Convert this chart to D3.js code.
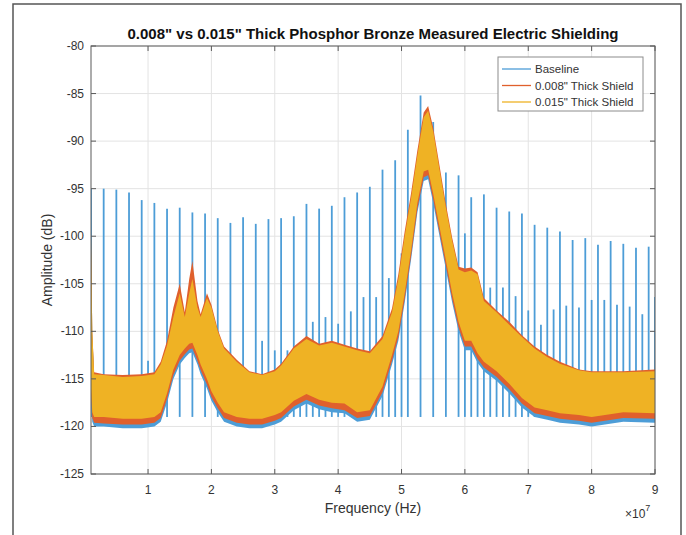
<!DOCTYPE html>
<html>
<head>
<meta charset="utf-8" />
<title>Phosphor Bronze Electric Shielding</title>
<script src="https://cdn.jsdelivr.net/npm/d3@7/dist/d3.min.js"></script>
<style>
  body { margin: 0; background: #fff; }
  text { font-family: "Liberation Sans", Arial, sans-serif; fill: #333; }
</style>
</head>
<body>
<script>
// frequencies in MHz where the noise band edges were read
var envFreq = [1, 1.2, 1.5, 3, 6, 9, 11, 12, 13, 14,
  15, 15.8, 16.5, 17, 17.8, 18.3, 19.3, 20, 21, 22,
  24, 26, 28, 30, 31, 33, 35, 37, 39, 41,
  43, 45, 47, 48.5, 49.5, 50.5, 51.5, 52.5, 53.5, 54.2,
  55, 56, 57, 58, 59, 60, 61, 62, 63, 65,
  67, 69, 71, 73, 75, 78, 80, 85, 90];

// 0.015" shield (yellow) band
var yellowHi = [-100, -110, -114.5, -114.6, -114.8, -114.7, -114.5, -113.5, -111.5, -108.5,
  -106, -108.5, -106, -104.5, -107.5, -108.5, -106.5, -107.5, -110, -111.8,
  -113.2, -114.3, -114.6, -114.2, -113.6, -111.8, -110.8, -111.5, -111.2, -111.6,
  -112, -112.3, -110.8, -108, -104.5, -100, -96, -91.5, -87.5, -86.8,
  -89, -93, -97, -100.5, -103.5, -103.8, -103.6, -104, -106.8, -108,
  -109.3, -110.6, -111.8, -112.7, -113.4, -114.1, -114.3, -114.3, -114.2];
var yellowLo = [-116, -118.5, -119, -119, -119.2, -119.2, -119, -118.5, -116.5, -114,
  -112.5, -111.8, -111.3, -111.2, -112.5, -113.5, -115, -116.3, -117.5, -118.5,
  -119, -119.2, -119.2, -118.8, -118.5, -117.3, -116.6, -117.2, -117.5, -117.6,
  -118.5, -118.3, -115.8, -112.5, -110, -106, -101.5, -96.5, -93.2, -93,
  -95.5, -99, -102.5, -106, -109, -111, -111, -112.3, -113.2, -114.2,
  -115.5, -117, -118, -118.3, -118.6, -118.8, -119, -118.5, -118.6];

// 0.008" shield (red) band
var redHi = [-99.5, -110, -114.3, -114.5, -114.6, -114.5, -114.3, -113.2, -111, -107.5,
  -105, -108, -104.5, -102.6, -106.8, -108.2, -106, -107.2, -109.8, -111.6,
  -113, -114.2, -114.5, -114, -113.4, -111.6, -110.5, -111.3, -111, -111.4,
  -111.8, -112.1, -110.5, -107.6, -104, -99.5, -95.5, -91, -87, -86.3,
  -88.6, -92.6, -96.6, -100.2, -103.2, -103.4, -103.3, -103.8, -106.5, -107.8,
  -109, -110.4, -111.6, -112.5, -113.2, -114, -114.2, -114.2, -114];
var redLo = [-116.6, -119.1, -119.6, -119.7, -119.8, -119.8, -119.6, -119.1, -117.1, -114.6,
  -113.1, -112.4, -111.9, -111.8, -113.1, -114.1, -115.6, -116.9, -118.1, -119.1,
  -119.6, -119.8, -119.8, -119.4, -119.1, -117.9, -117.2, -117.8, -118.1, -118.3,
  -119.1, -118.9, -116.4, -113.1, -110.6, -106.6, -102.1, -97.1, -93.8, -93.6,
  -96.1, -99.6, -103.1, -106.6, -109.6, -111.6, -111.6, -112.9, -113.8, -114.8,
  -116.1, -117.6, -118.6, -118.9, -119.2, -119.4, -119.6, -119.1, -119.2];

// baseline (blue) band
var blueHi = [-97, -110.5, -114.6, -114.8, -115, -114.9, -114.7, -113.8, -111.8, -108.8,
  -106.5, -109, -106.5, -105.2, -108, -109, -107, -108, -110.4, -112.1,
  -113.5, -114.5, -114.8, -114.4, -113.8, -112, -111, -111.7, -111.4, -111.8,
  -112.2, -112.5, -111, -108.3, -104.8, -100.3, -96.3, -92, -88, -87.2,
  -89.5, -93.4, -97.4, -100.8, -103.8, -104.1, -104, -104.3, -107, -108.3,
  -109.6, -110.9, -112.1, -113, -113.7, -114.4, -114.6, -114.6, -114.5];
var blueLo = [-117, -119.5, -120, -120, -120.2, -120.2, -120, -119.5, -117.5, -115,
  -113.5, -112.8, -112.3, -112.2, -113.5, -114.5, -116, -117.3, -118.5, -119.5,
  -120, -120.2, -120.2, -119.8, -119.5, -118.3, -117.6, -118.2, -118.5, -118.6,
  -119.5, -119.3, -116.8, -113.5, -111, -107, -102.5, -97.5, -94.2, -94,
  -96.5, -100, -103.5, -107, -110, -112, -112, -113.3, -114.2, -115.2,
  -116.5, -118, -119, -119.3, -119.6, -119.8, -120, -119.5, -119.6];

// baseline spurs (MHz, top in dB)
var spurFreq = [1, 3, 5, 7, 9, 11, 13, 15, 17, 19, 21, 23, 25, 27, 29,
  31, 33, 35, 37, 39, 41, 43, 45, 47, 49, 51, 53, 55, 57, 59,
  61, 63, 65, 67, 69, 71, 73, 75, 77, 79, 81, 83, 85, 87, 89,
  10, 28, 30, 32, 34, 36, 38, 40, 42, 44, 46, 48, 50,
  60, 62, 64, 66, 68, 70, 72, 74, 76, 78, 80, 82, 84, 86, 88, 90];
var spurTop = [-95, -95, -95.1, -95.4, -96.2, -96.5, -97.1, -97, -97.5, -97.6, -98.1, -98.6, -98, -98.7, -98.2,
  -98.1, -97.9, -96.6, -97.1, -96.8, -95.9, -95.4, -94.8, -93, -92, -88.8, -85.2, -88, -93.3, -93.6,
  -95.9, -95.6, -97, -97.4, -97.6, -98.8, -99.1, -99.5, -100.4, -100.2, -100.9, -100.5, -100.8, -101.2, -101.1,
  -113.1, -111, -112, -112, -112.5, -109, -108.5, -109.2, -107.9, -106.4, -106.4, -104.4, -101.8,
  -99.7, -104.6, -105.4, -105.4, -106.3, -107.8, -109.3, -107.7, -107.3, -107.5, -106.7, -106.7, -107.2, -107.4, -108.2, -106.4];

var xTicks = [1, 2, 3, 4, 5, 6, 7, 8, 9];      // x 10^7 Hz
var yTicks = [-125, -120, -115, -110, -105, -100, -95, -90, -85, -80];

var seriesNames = ["Baseline", "0.008\" Thick Shield", "0.015\" Thick Shield"];
var colors = ["#4d9dd7", "#e0602c", "#efb224"];

var W = 686, H = 535;
var pL = 91, pR = 655, pT = 46, pB = 474;

var svg = d3.select("body").append("svg")
  .attr("width", W).attr("height", H);

// outer figure frame
svg.append("rect")
  .attr("x", 13).attr("y", 4).attr("width", 668).attr("height", 560)
  .attr("fill", "#fff").attr("stroke", "#555").attr("stroke-width", 1.5);

var x = d3.scaleLinear().domain([1e6, 9e7]).range([pL, pR]);
var y = d3.scaleLinear().domain([-125, -80]).range([pB, pT]);

// grid
var g = svg.append("g");
g.selectAll(".gx").data(xTicks).enter().append("line")
  .attr("x1", function (d) { return x(d * 1e7); })
  .attr("x2", function (d) { return x(d * 1e7); })
  .attr("y1", pT).attr("y2", pB)
  .attr("stroke", "#e3e3e3").attr("stroke-width", 1);
g.selectAll(".gy").data(yTicks).enter().append("line")
  .attr("y1", function (d) { return y(d); })
  .attr("y2", function (d) { return y(d); })
  .attr("x1", pL).attr("x2", pR)
  .attr("stroke", "#e3e3e3").attr("stroke-width", 1);

// clip
svg.append("clipPath").attr("id", "clip").append("rect")
  .attr("x", pL).attr("y", pT).attr("width", pR - pL).attr("height", pB - pT);
var plot = svg.append("g").attr("clip-path", "url(#clip)");

function band(hi, lo) {
  var pts = envFreq.map(function (f, i) { return { f: f, hi: hi[i], lo: lo[i] }; });
  return d3.area()
    .x(function (d) { return x(d.f * 1e6); })
    .y0(function (d) { return y(d.lo); })
    .y1(function (d) { return y(d.hi); })(pts);
}

// baseline band + spurs, then the two shields on top
plot.append("path").attr("d", band(blueHi, blueLo)).attr("fill", colors[0]);
plot.selectAll(".spur").data(spurFreq).enter().append("line")
  .attr("x1", function (d) { return x(d * 1e6); })
  .attr("x2", function (d) { return x(d * 1e6); })
  .attr("y1", y(-119))
  .attr("y2", function (d, i) { return y(spurTop[i]); })
  .attr("stroke", colors[0]).attr("stroke-width", 1.8);
plot.append("path").attr("d", band(redHi, redLo)).attr("fill", colors[1]);
plot.append("path").attr("d", band(yellowHi, yellowLo)).attr("fill", colors[2]);

// axes box and ticks (inside, all sides)
var axisCol = "#5a5a5a";
svg.append("rect").attr("x", pL).attr("y", pT)
  .attr("width", pR - pL).attr("height", pB - pT)
  .attr("fill", "none").attr("stroke", axisCol).attr("stroke-width", 1);

var ax = svg.append("g");
xTicks.forEach(function (t) {
  var px = x(t * 1e7);
  ax.append("line").attr("x1", px).attr("x2", px).attr("y1", pB).attr("y2", pB - 5).attr("stroke", axisCol);
  ax.append("line").attr("x1", px).attr("x2", px).attr("y1", pT).attr("y2", pT + 5).attr("stroke", axisCol);
  ax.append("text").attr("x", px).attr("y", pB + 20)
    .attr("text-anchor", "middle").attr("font-size", 12).text(t);
});
yTicks.forEach(function (t) {
  var py = y(t);
  ax.append("line").attr("x1", pL).attr("x2", pL + 5).attr("y1", py).attr("y2", py).attr("stroke", axisCol);
  ax.append("line").attr("x1", pR).attr("x2", pR - 5).attr("y1", py).attr("y2", py).attr("stroke", axisCol);
  ax.append("text").attr("x", pL - 7).attr("y", py + 4)
    .attr("text-anchor", "end").attr("font-size", 12).text(t);
});

// exponent
var ex = svg.append("text").attr("x", 625).attr("y", 518).attr("font-size", 12);
ex.append("tspan").text("\u00d710");
ex.append("tspan").attr("dy", -7).attr("font-size", 9).text("7");

// labels
svg.append("text").attr("x", (pL + pR) / 2).attr("y", 39)
  .attr("text-anchor", "middle").attr("font-size", 15).attr("font-weight", "bold")
  .style("fill", "#111")
  .text("0.008\" vs 0.015\" Thick Phosphor Bronze Measured Electric Shielding");
svg.append("text").attr("x", (pL + pR) / 2).attr("y", 513)
  .attr("text-anchor", "middle").attr("font-size", 14).text("Frequency (Hz)");
svg.append("text").attr("transform", "translate(52," + ((pT + pB) / 2) + ") rotate(-90)")
  .attr("text-anchor", "middle").attr("font-size", 14).text("Amplitude (dB)");

// legend
var lg = svg.append("g");
lg.append("rect").attr("x", 498).attr("y", 57).attr("width", 145).attr("height", 54)
  .attr("fill", "#fff").attr("stroke", "#8c8c8c");
seriesNames.forEach(function (n, i) {
  var ly = 69 + i * 16.5;
  lg.append("line").attr("x1", 502).attr("x2", 531).attr("y1", ly).attr("y2", ly)
    .attr("stroke", colors[i]).attr("stroke-width", 1.3);
  lg.append("text").attr("x", 535).attr("y", ly + 4).attr("font-size", 11.5).text(n);
});
</script>
</body>
</html>
